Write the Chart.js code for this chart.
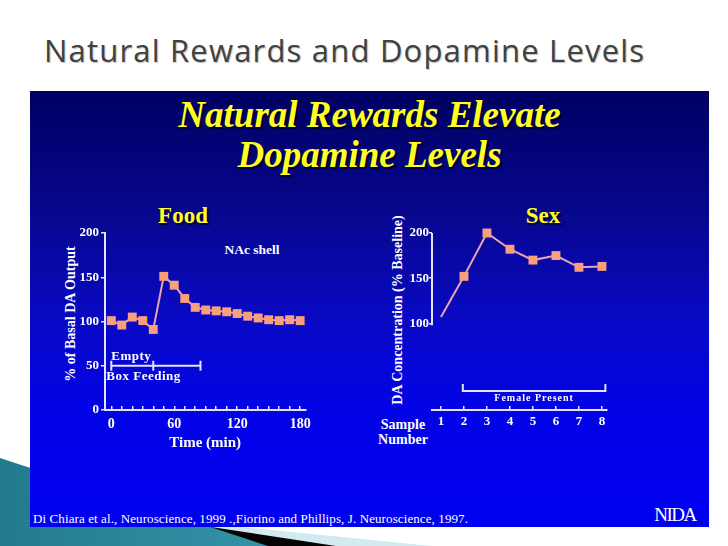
<!DOCTYPE html>
<html>
<head>
<meta charset="utf-8">
<title>Natural Rewards and Dopamine Levels</title>
<script src="https://cdn.jsdelivr.net/npm/chart.js@4.4.1/dist/chart.umd.min.js"></script>
<style>
  html, body { margin: 0; padding: 0; background: #fff; }
  #slide { position: relative; width: 728px; height: 546px; overflow: hidden; font-family: "Liberation Serif", "Times New Roman", serif; }
  .deco { position: absolute; left: 0; top: 0; width: 728px; height: 546px; }
  #decoLight { background: #d2eaf0; clip-path: polygon(0 503px, 432px 546px, 0 546px); }
  #decoDark { background: #050505; clip-path: polygon(0 495px, 336px 546px, 0 546px); }
  #decoTeal { background: linear-gradient(90deg, #237a8c 0%, #3595aa 40%, #6cc2d6 80%, #8ad2e2 100%); clip-path: polygon(0 458px, 268px 546px, 0 546px); }
  #panel { position: absolute; left: 30px; top: 91px; width: 679px; height: 436px;
           background: linear-gradient(180deg, #000062 0%, #07078e 28%, #0909c4 52%, #0303e6 72%, #0000f2 100%); }
  .txt { position: absolute; color: #fff; font-weight: bold; white-space: nowrap; line-height: 1; transform: translate(-50%, -50%); }
  .rot { transform: translate(-50%, -50%) rotate(-90deg); }
  .yellow { color: #ffff22; text-shadow: 2px 2px 1px rgba(0, 0, 30, 0.8); }
  canvas { position: absolute; }
  #slideTitle { position: absolute; left: 44px; top: 35px; font-family: "Open Sans", sans-serif; font-size: 31px; line-height: 30px;
                letter-spacing: 1.2px; color: #414141; text-shadow: 1px 1px 1px rgba(0,0,0,0.25); white-space: nowrap; }
  #panelTitle { position: absolute; left: 30px; top: 95px; width: 679px; text-align: center; font-size: 37px; line-height: 40px;
                font-weight: bold; font-style: italic; }
  #footer { position: absolute; left: 33px; top: 512px; font-size: 13px; line-height: 14px; letter-spacing: 0.1px; color: #fff; white-space: nowrap; }
</style>
</head>
<body>
<div id="slide">
  <div class="deco" id="decoLight"></div>
  <div class="deco" id="decoDark"></div>
  <div class="deco" id="decoTeal"></div>
  <div id="slideTitle">Natural Rewards and Dopamine Levels</div>
  <div id="panel"></div>
  <div id="panelTitle" class="yellow">Natural Rewards Elevate<br>Dopamine Levels</div>

  <div class="txt yellow" style="left:183px; top:215px; font-size:23px;">Food</div>
  <div class="txt yellow" style="left:543px; top:215px; font-size:23px;">Sex</div>
  <div class="txt" style="left:252px; top:250px; font-size:13.5px;">NAc shell</div>
  <div class="txt" style="left:403px; top:425px; font-size:14px;">Sample</div>
  <div class="txt" style="left:403px; top:440px; font-size:14px;">Number</div>
  <div class="txt rot" style="left:71px; top:314px; font-size:14px;">% of Basal DA Output</div>
  <div class="txt rot" style="left:398px; top:310px; font-size:14px;">DA Concentration (% Baseline)</div>

  <canvas id="foodChart" width="262" height="235" style="left:59px; top:220px;"></canvas>
  <canvas id="sexChart" width="230" height="215" style="left:386px; top:220px;"></canvas>

  <div id="footer">Di Chiara et al., Neuroscience, 1999 .,Fiorino and Phillips, J. Neuroscience, 1997.</div>
  <div class="txt" style="left:675px; top:514px; font-size:19px; font-weight:normal; letter-spacing:-1.5px;">NIDA</div>
</div>

<script>
// ---- Food: NAc shell DA output, sampled every 10 min ----
const foodTimes = [0, 10, 20, 30, 40, 50, 60, 70, 80, 90, 100, 110, 120, 130, 140, 150, 160, 170, 180];
const foodValues = [101, 96, 105, 101, 91, 151, 141, 126, 116, 113, 112, 111, 109, 106, 104, 102, 101, 102, 101];
const foodXLabels = [0, 60, 120, 180];
const foodYTicks = [0, 50, 100, 150, 200];
const foodPhaseEdges = [0, 40, 85];   // empty box -> feeding -> end
const foodPhaseLevel = 50;

// ---- Sex: DA concentration per sample ----
const sexSamples = [1, 2, 3, 4, 5, 6, 7, 8];
const sexValues = [107, 152, 200, 182, 170, 175, 162, 163];
const sexYTicks = [100, 150, 200];
const femaleSpan = [1.95, 8.15];
const femaleLevel = 25;

const axisColor = '#e4e4ff';
const lineColor = '#eea3b3';
const markerColor = '#fa9f7c';
const tickFont = { family: 'Liberation Serif', weight: 'bold', size: 13 };
const xTickFont = { family: 'Liberation Serif', weight: 'bold', size: 14 };
const axisTitleFont = { family: 'Liberation Serif', weight: 'bold', size: 15 };

function fixedTicks(values) {
    return scale => { scale.ticks = values.map(v => ({ value: v })); };
}

function lineDataset(xs, ys, extra) {
    return Object.assign({
        data: xs.map((x, i) => ({ x: x, y: ys[i] })),
        borderColor: lineColor,
        borderWidth: 2,
        tension: 0,
        clip: false,
        pointStyle: 'rect',
        pointRadius: 6.3,
        pointBackgroundColor: markerColor,
        pointBorderColor: markerColor,
        pointBorderWidth: 0
    }, extra || {});
}

// bracket with end marks under the food curve: "Empty / Box Feeding"
const foodPhasesPlugin = {
    id: 'foodPhases',
    afterDatasetsDraw(chart) {
        const { ctx, scales: { x, y } } = chart;
        const py = y.getPixelForValue(foodPhaseLevel);
        const xs = foodPhaseEdges.map(v => x.getPixelForValue(v));
        ctx.save();
        ctx.strokeStyle = axisColor;
        ctx.lineWidth = 2;
        ctx.beginPath();
        ctx.moveTo(xs[0], py);
        ctx.lineTo(xs[xs.length - 1], py);
        xs.forEach(px => { ctx.moveTo(px, py - 5); ctx.lineTo(px, py + 5); });
        ctx.stroke();
        ctx.fillStyle = '#fff';
        ctx.font = 'bold 13px "Liberation Serif"';
        ctx.textBaseline = 'middle';
        ctx.letterSpacing = '0.5px';
        ctx.fillText('Empty', xs[0], py - 9);
        ctx.fillText('Box Feeding', xs[0] - 5, py + 11);
        ctx.restore();
    }
};

// short y axis (100-200 only) and the "Female Present" bracket
const sexExtrasPlugin = {
    id: 'sexExtras',
    afterDatasetsDraw(chart) {
        const { ctx, scales: { x, y } } = chart;
        ctx.save();
        ctx.strokeStyle = axisColor;
        ctx.lineWidth = 2;
        ctx.beginPath();
        ctx.moveTo(x.left, y.getPixelForValue(sexYTicks[sexYTicks.length - 1]));
        ctx.lineTo(x.left, y.getPixelForValue(sexYTicks[0]) + 2);
        const py = y.getPixelForValue(femaleLevel);
        const x0 = x.getPixelForValue(femaleSpan[0]);
        const x1 = x.getPixelForValue(femaleSpan[1]);
        ctx.moveTo(x0, py - 7);
        ctx.lineTo(x0, py);
        ctx.lineTo(x1, py);
        ctx.lineTo(x1, py - 7);
        ctx.stroke();
        ctx.fillStyle = '#fff';
        ctx.font = 'bold 10px "Liberation Serif"';
        ctx.letterSpacing = '1px';
        ctx.textAlign = 'center';
        ctx.textBaseline = 'middle';
        ctx.fillText('Female Present', (x0 + x1) / 2, py + 7);
        ctx.restore();
    }
};

const baseOptions = {
    responsive: false,
    animation: false,
    events: [],
    plugins: { legend: { display: false }, tooltip: { enabled: false } }
};

new Chart(document.getElementById('foodChart'), {
    type: 'line',
    data: { datasets: [lineDataset(foodTimes, foodValues)] },
    options: Object.assign({}, baseOptions, {
        layout: { padding: { top: 13, right: 13, left: 0, bottom: 0 } },
        scales: {
            x: {
                type: 'linear', min: -6, max: 185,
                afterBuildTicks: fixedTicks(foodTimes),
                afterFit: s => { s.height = 45; },
                grid: { drawOnChartArea: false, tickLength: -4, color: axisColor, lineWidth: 1.5 },
                border: { color: axisColor, width: 2 },
                ticks: {
                    autoSkip: false, maxRotation: 0, padding: 10, color: '#fff', font: xTickFont,
                    callback: v => foodXLabels.includes(v) ? String(v) : ''
                },
                title: { display: true, text: 'Time (min)', color: '#fff', font: axisTitleFont, padding: { top: 3, bottom: 3 } }
            },
            y: {
                min: 0, max: 200,
                afterBuildTicks: fixedTicks(foodYTicks),
                afterFit: s => { s.width = 46; },
                grid: { drawOnChartArea: false, tickLength: 4, color: axisColor, lineWidth: 1.5 },
                border: { color: axisColor, width: 2 },
                ticks: { padding: 2, color: '#fff', font: tickFont }
            }
        }
    }),
    plugins: [foodPhasesPlugin]
});

new Chart(document.getElementById('sexChart'), {
    type: 'line',
    data: {
        datasets: [lineDataset(sexSamples, sexValues, {
            pointRadius: ctx => ctx.dataIndex === 0 ? 0 : 6.3
        })]
    },
    options: Object.assign({}, baseOptions, {
        layout: { padding: { top: 13, right: 9, left: 0, bottom: 0 } },
        scales: {
            x: {
                type: 'linear', min: 0.61, max: 8.22,
                afterBuildTicks: fixedTicks(sexSamples),
                afterFit: s => { s.height = 25; },
                grid: { drawOnChartArea: false, tickLength: -4, color: axisColor, lineWidth: 1.5 },
                border: { color: axisColor, width: 2 },
                ticks: { autoSkip: false, maxRotation: 0, padding: 8, color: '#fff', font: tickFont }
            },
            y: {
                min: 4, max: 200,
                afterBuildTicks: fixedTicks(sexYTicks),
                afterFit: s => { s.width = 46; },
                grid: { drawOnChartArea: false, tickLength: 3, color: axisColor, lineWidth: 1.5 },
                border: { display: false },
                ticks: { padding: 0, color: '#fff', font: tickFont }
            }
        }
    }),
    plugins: [sexExtrasPlugin]
});
</script>
</body>
</html>
